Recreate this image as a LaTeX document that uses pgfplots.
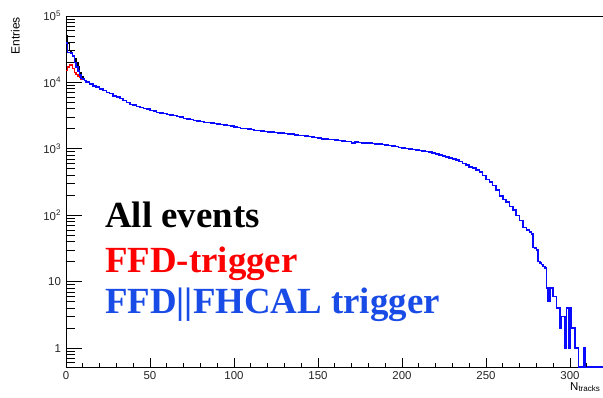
\documentclass[border=0pt]{standalone}
\usepackage{pgfplots}
\pgfplotsset{compat=1.18}
\usepackage{pgfplotstable}
\usepackage{fontspec}
\setmainfont{Liberation Sans}
\newfontfamily\legfont{Liberation Serif}
\definecolor{histblue}{RGB}{10,10,255}
\definecolor{txtblue}{RGB}{25,75,230}
\definecolor{txtred}{RGB}{255,0,0}

% x = bin left edge ; all = All events ; ffd = FFD-trigger ; or = FFD||FHCAL trigger
% empty bins are plotted at the frame bottom (0.52)
\pgfplotstableread{
x all ffd or
0 51000 15100 38900
1 38900 17000 28200
2 30200 18600 28200
3 28200 18200 27500
4 25100 16200 25100
5 22900 14100 20000
6 20000 13200 17000
7 17400 12300 14800
8 14100 11800 12900
9 12000 11200 11500
10 11200 11000 11200
11 10700 10600 10700
12 10200 10200 10200
14 9550 9550 9550
16 8900 8900 8900
18 8500 8500 8500
20 7950 7950 7950
22 7600 7600 7600
24 7080 7080 7080
26 6760 6760 6760
28 6300 6300 6300
30 6030 6030 6030
32 5750 5750 5750
34 5370 5370 5370
36 5010 5010 5010
38 4680 4680 4680
40 4570 4570 4570
42 4370 4370 4370
44 4170 4170 4170
46 4070 4070 4070
48 3980 3980 3980
50 3800 3800 3800
52 3720 3720 3720
54 3550 3550 3550
56 3470 3470 3470
58 3390 3390 3390
60 3310 3310 3310
62 3240 3240 3240
64 3160 3160 3160
66 3090 3090 3090
68 3020 3020 3020
70 2880 2880 2880
72 2820 2820 2820
74 2750 2750 2750
76 2690 2690 2690
78 2630 2630 2630
80 2570 2570 2570
82 2510 2510 2510
84 2500 2500 2500
86 2455 2455 2455
88 2400 2400 2400
90 2370 2370 2370
92 2340 2340 2340
94 2290 2290 2290
96 2240 2240 2240
98 2190 2190 2190
100 2140 2140 2140
102 2090 2090 2090
104 2040 2040 2040
106 2020 2020 2020
108 1995 1995 1995
110 1950 1950 1950
112 1905 1905 1905
114 1880 1880 1880
116 1860 1860 1860
118 1820 1820 1820
120 1800 1800 1800
122 1780 1780 1780
124 1760 1760 1760
126 1740 1740 1740
128 1720 1720 1720
130 1700 1700 1700
132 1680 1680 1680
134 1660 1660 1660
136 1620 1620 1620
138 1585 1585 1585
140 1590 1590 1590
142 1550 1550 1550
144 1545 1545 1545
146 1510 1510 1510
148 1480 1480 1480
150 1445 1445 1445
152 1410 1410 1410
154 1415 1415 1415
156 1380 1380 1380
158 1375 1375 1375
160 1350 1350 1350
162 1345 1345 1345
164 1320 1320 1320
166 1300 1300 1300
168 1290 1290 1290
170 1230 1230 1230
172 1260 1260 1260
174 1245 1245 1245
176 1230 1230 1230
178 1230 1230 1230
180 1215 1215 1215
182 1200 1200 1200
184 1190 1190 1190
186 1175 1175 1175
188 1160 1160 1160
190 1150 1150 1150
192 1120 1120 1120
194 1110 1110 1110
196 1085 1085 1085
198 1050 1050 1050
200 1035 1035 1035
202 1010 1010 1010
204 990 990 990
206 977 977 977
208 955 955 955
210 945 945 945
212 922 922 922
214 912 912 912
216 891 891 891
218 871 871 871
220 841 841 841
222 813 813 813
224 785 785 785
226 759 759 759
228 733 733 733
230 708 708 708
232 676 676 676
234 646 646 646
236 603 603 603
238 569 569 569
240 537 537 537
242 513 513 513
244 479 479 479
246 447 447 447
248 398 398 398
250 347 347 347
252 316 316 316
254 282 282 282
256 240 240 240
258 195 195 195
260 174 174 174
262 158 158 158
264 135 135 135
266 120 120 120
268 100 100 100
270 83 83 83
272 66 66 66
274 60 60 60
276 56 56 56
277 52 52 52
278 33 33 33
279 32 32 32
280 30 30 30
281 20 20 20
282 19 19 19
283 18 18 18
284 17 17 17
285 16 16 16
286 8 8 8
287 5 5 5
288 8 8 8
289 8 8 8
290 6 6 6
291 6 6 6
292 4 4 4
293 4 4 4
294 2 2 2
295 3 3 3
296 3 3 3
297 1 1 1
298 4 4 4
299 1 1 1
300 4 4 4
301 2 2 2
302 2 2 2
303 1 1 1
304 1 1 1
305 0.52 0.52 0.52
306 0.52 0.52 0.52
307 0.52 0.52 0.52
308 1 1 1
309 0.52 0.52 0.52
320 0.52 0.52 0.52
}\histdata

\begin{document}
\begin{tikzpicture}
\begin{axis}[
  at={(0,0)}, anchor=south west,
  scale only axis, width=537.6bp, height=351bp,
  xmin=0, xmax=320, ymode=log, ymin=0.52, ymax=1e5,
  clip mode=individual,
  axis line style={line width=0.9pt},
  tick align=inside, xtick pos=bottom, ytick pos=left,
  tick style={black, line width=0.9pt},
  major tick length=16bp, minor tick length=9bp,
  xtick={0,50,...,300},
  xticklabels={0,50,100,150,200,250,300},
  xtick style={draw=none},
  ytick={1,10,100,1000,10000,100000},
  yticklabels={1,10,10\textsuperscript{2},10\textsuperscript{3},10\textsuperscript{4},10\textsuperscript{5}},
  minor ytick={0.6,0.7,0.8,0.9,2,3,4,5,6,7,8,9,20,30,40,50,60,70,80,90,200,300,400,500,600,700,800,900,2000,3000,4000,5000,6000,7000,8000,9000,20000,30000,40000,50000,60000,70000,80000,90000},
  tick label style={font=\fontsize{11.5}{13}\selectfont, text=black!85},
  yticklabel style={xshift=-1.5bp},
  xticklabel style={yshift=-1bp},
  const plot mark left,
  every axis plot/.append style={line width=1.5pt, no markers},
]
\addplot[black] table[x=x, y=all] {\histdata};
\addplot[red] table[x=x, y=ffd] {\histdata};
\addplot[histblue] table[x=x, y=or] {\histdata};

\node[rotate=90, anchor=south east, font=\fontsize{12}{14}\selectfont, inner sep=0pt]
  at ([xshift=-46bp, yshift=-1bp]rel axis cs:0,1) {Entries};
\node[anchor=base east, font=\fontsize{11.5}{13}\selectfont, inner sep=0pt]
  at ([xshift=-3bp, yshift=-23bp]rel axis cs:1,0) {N\textsubscript{tracks}};

\node[anchor=base west, inner sep=0pt, font=\legfont\bfseries\fontsize{37}{40}\selectfont]
  at ([xshift=39bp, yshift=139bp]rel axis cs:0,0) {All events};
\node[anchor=base west, inner sep=0pt, text=txtred, font=\legfont\bfseries\fontsize{37}{40}\selectfont]
  at ([xshift=39bp, yshift=95bp]rel axis cs:0,0) {FFD-trigger};
\node[anchor=base west, inner sep=0pt, text=txtblue, font=\legfont\bfseries\fontsize{37}{40}\selectfont]
  at ([xshift=39bp, yshift=54bp]rel axis cs:0,0) {FFD||FHCAL trigger};
\end{axis}
% overlay axis carrying only the (shorter) x ticks
\begin{axis}[
  at={(0,0)}, anchor=south west,
  scale only axis, width=537.6bp, height=351bp,
  xmin=0, xmax=320, ymode=log, ymin=0.52, ymax=1e5,
  axis line style={draw=none},
  tick align=inside, xtick pos=bottom,
  tick style={black, line width=0.9pt},
  major tick length=9bp, minor tick length=4.5bp,
  xtick={0,50,...,300}, xticklabels={},
  minor xtick={10,20,30,40,60,70,80,90,110,120,130,140,160,170,180,190,210,220,230,240,260,270,280,290,310,320},
  ytick=\empty, minor ytick={},
]
\end{axis}
\pgfresetboundingbox
\path[use as bounding box] (-66bp,-31bp) rectangle (537bp,367bp);
\end{tikzpicture}
\end{document}
